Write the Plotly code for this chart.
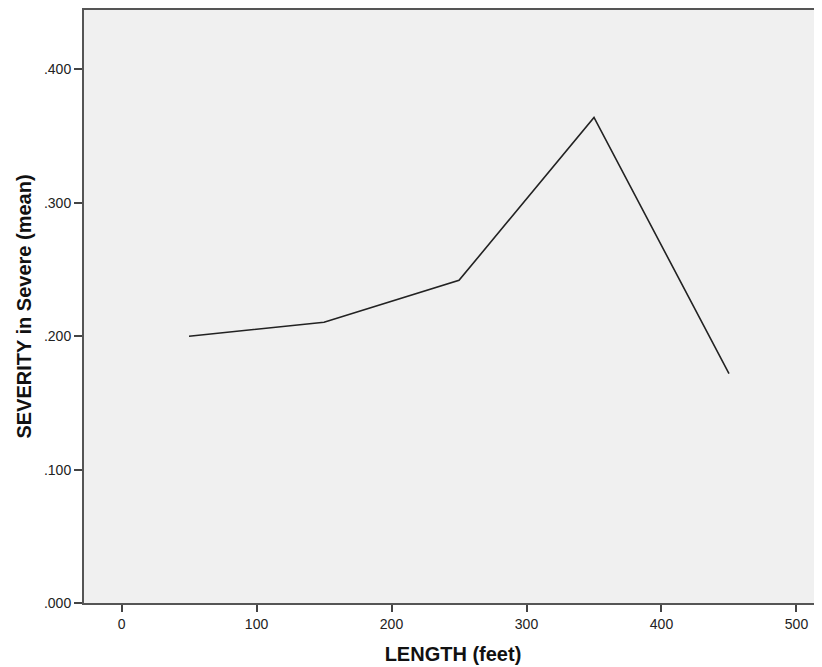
import plotly.graph_objects as go

length_ft = [50, 150, 250, 350, 450]
severity_mean = [0.200, 0.2105, 0.2419, 0.3640, 0.1720]

x_ticks = [0, 100, 200, 300, 400, 500]
y_ticks = [0.0, 0.1, 0.2, 0.3, 0.4]
y_tick_labels = [".000", ".100", ".200", ".300", ".400"]

fig = go.Figure()
fig.add_trace(go.Scatter(
    x=length_ft, y=severity_mean, mode="lines",
    line=dict(color="#222222", width=1.6), showlegend=False,
))

fig.update_layout(
    width=822, height=667,
    margin=dict(l=76, r=8, t=0, b=72),
    paper_bgcolor="white",
    plot_bgcolor="#F0F0F0",
    font=dict(family="Liberation Sans, Arial, sans-serif", color="#222222"),
)
fig.update_xaxes(
    range=[-27.8, 518.9],
    tickvals=x_ticks, ticktext=[str(v) for v in x_ticks],
    ticks="outside", ticklen=7, tickwidth=1.5, tickcolor="#444444",
    showgrid=False, zeroline=False,
    showline=True, linecolor="#555555", linewidth=2, mirror=True,
    tickfont=dict(size=14, color="#222222"),
    title=dict(text="<b>LENGTH (feet)</b>", font=dict(size=20, color="#111111"), standoff=16),
)
fig.update_yaxes(
    range=[0, 0.4446],
    tickvals=y_ticks, ticktext=y_tick_labels,
    ticks="outside", ticklen=8, tickwidth=1.5, tickcolor="#444444",
    showgrid=False, zeroline=False,
    showline=True, linecolor="#555555", linewidth=2,
    tickfont=dict(size=14, color="#222222"),
    title=dict(text="<b>SEVERITY in Severe (mean)</b>", font=dict(size=20, color="#111111"), standoff=7),
)

fig.write_html("out.html")
